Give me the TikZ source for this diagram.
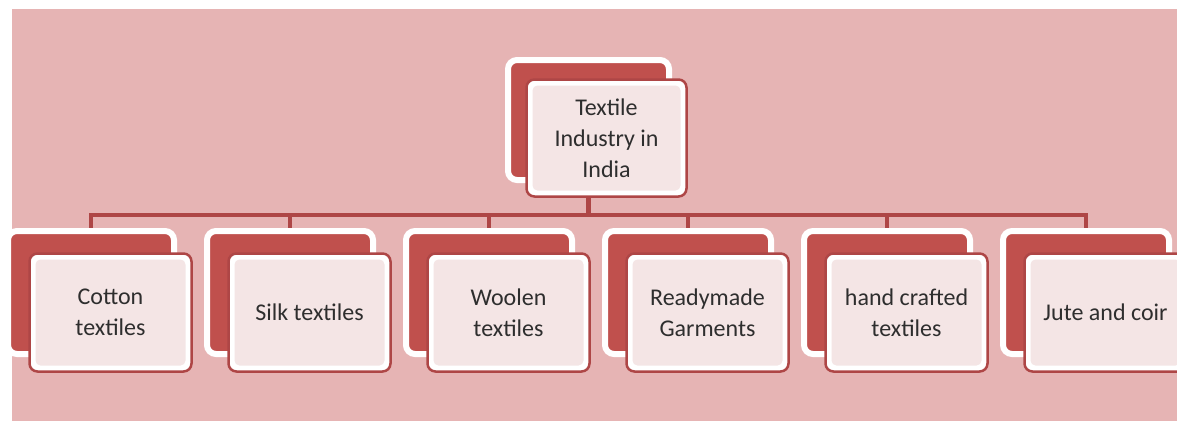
\documentclass[tikz,border=0pt]{standalone}
\usepackage{fontspec}
\setmainfont{Carlito}
\pgfdeclarelayer{bg}
\pgfsetlayers{bg,main}
\definecolor{rosebg}{HTML}{E6B4B4}
\definecolor{brick}{HTML}{C0504D}
\definecolor{wire}{HTML}{AE4646}
\definecolor{paper}{HTML}{F4E5E5}
\definecolor{ink}{HTML}{2E2E2E}

\begin{document}
\begin{tikzpicture}[x=1pt,y=-1pt]
	\tikzstyle{back} = [rectangle,rounded corners=9pt,fill=brick,draw=white,line width=6pt,inner sep=0pt];
	\tikzstyle{front} = [rectangle,rounded corners=8pt,fill=white,draw=wire,line width=2.5pt,inner sep=0pt];
	\tikzstyle{label} = [rectangle,rounded corners=5pt,fill=paper,inner sep=0pt,
		text=ink,align=center,font=\fontsize{24}{31}\selectfont];
	\tikzstyle{link} = [draw=wire,line width=4.5pt];
	\useasboundingbox (0,0) rectangle (1177,421);
	\begin{pgfonlayer}{bg}
		\fill[rosebg] (12,9) rectangle (1177,421);
	\end{pgfonlayer}
	\coordinate (bus) at (0,215);
	\node[back,minimum width=161pt,minimum height=120pt] (top-bk) at (588.5,120) {};
	\node[front,minimum width=160pt,minimum height=117pt] (top-fr) at (606.5,138) {};
	\node[label,minimum width=148pt,minimum height=105pt] (top) at (top-fr) {Textile\\Industry in\\India};
	\foreach \n/\txt [count=\i from 0] in {cotton/{Cotton\\textiles},silk/{Silk textiles},woolen/{Woolen\\textiles},
		ready/{Readymade\\Garments},hand/{hand crafted\\textiles},jute/{Jute and coir}} {
		\node[back,minimum width=166pt,minimum height=123pt] (\n-bk) at (91+199*\i,292.5) {};
		\node[front,minimum width=162pt,minimum height=118pt] (\n-fr) at (110.5+199*\i,312.5) {};
		\node[label,minimum width=150pt,minimum height=106pt] (\n) at (\n-fr) {\txt};
		\begin{pgfonlayer}{bg}
			\draw[link] (top-bk.south) -- (top-bk.south |- bus) -| (\n-bk.north);
		\end{pgfonlayer}
	}
\end{tikzpicture}
\end{document}
